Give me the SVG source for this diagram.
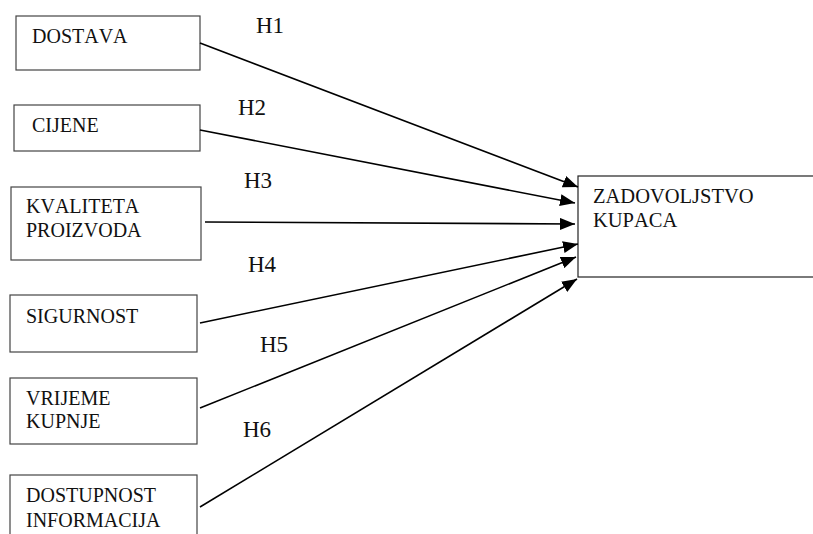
<svg xmlns="http://www.w3.org/2000/svg" width="813" height="534" viewBox="0 0 813 534">
<style>
.box{fill:#fff;stroke:#444;stroke-width:1.2}
.lbl{font-family:"Liberation Serif","Times New Roman",serif;font-size:20px;fill:#111;font-kerning:none}
.h{font-family:"Liberation Serif","Times New Roman",serif;font-size:23px;fill:#111}
.edge{stroke:#000;stroke-width:1.6;fill:none;marker-end:url(#arr)}
</style>
<defs>
<marker id="arr" markerUnits="userSpaceOnUse" markerWidth="16" markerHeight="12" refX="15" refY="6" orient="auto">
<path d="M0,0 L15,6 L0,12 Z" fill="#000"/>
</marker>
</defs>
<rect width="813" height="534" fill="#fff"/>
<g id="n-dostava"><rect class="box" x="16" y="16" width="184" height="54"/><text class="lbl" x="32" y="43">DOSTAVA</text></g>
<g id="n-cijene"><rect class="box" x="14" y="105" width="186" height="46"/><text class="lbl" x="32" y="132">CIJENE</text></g>
<g id="n-kvaliteta"><rect class="box" x="11" y="187" width="190" height="73"/><text class="lbl" x="26" y="213">KVALITETA</text><text class="lbl" x="26" y="237">PROIZVODA</text></g>
<g id="n-sigurnost"><rect class="box" x="10" y="295" width="187" height="57"/><text class="lbl" x="26" y="323">SIGURNOST</text></g>
<g id="n-vrijeme"><rect class="box" x="10" y="378" width="187" height="66"/><text class="lbl" x="26" y="405">VRIJEME</text><text class="lbl" x="26" y="428">KUPNJE</text></g>
<g id="n-dostupnost"><rect class="box" x="10" y="475" width="187" height="80"/><text class="lbl" x="26" y="502">DOSTUPNOST</text><text class="lbl" x="26" y="527">INFORMACIJA</text></g>
<g id="n-zadovoljstvo"><rect class="box" x="578" y="176" width="250" height="101" style="stroke:#222"/><text class="lbl" x="593" y="203" style="font-size:20.5px">ZADOVOLJSTVO</text><text class="lbl" x="593" y="227" style="font-size:20.5px">KUPACA</text></g>
<g id="connectors">
<line class="edge" x1="200" y1="43" x2="578" y2="187"/>
<line class="edge" x1="200" y1="130" x2="575" y2="203"/>
<line class="edge" x1="205" y1="222" x2="575" y2="224"/>
<line class="edge" x1="200" y1="323" x2="578" y2="244"/>
<line class="edge" x1="200" y1="408" x2="576" y2="257"/>
<line class="edge" x1="200" y1="507" x2="577" y2="279"/>
</g>
<g id="labels">
<text class="h" x="256" y="33">H1</text>
<text class="h" x="238" y="115">H2</text>
<text class="h" x="244" y="188">H3</text>
<text class="h" x="248" y="272">H4</text>
<text class="h" x="260" y="352">H5</text>
<text class="h" x="243" y="437">H6</text>
</g>
</svg>
